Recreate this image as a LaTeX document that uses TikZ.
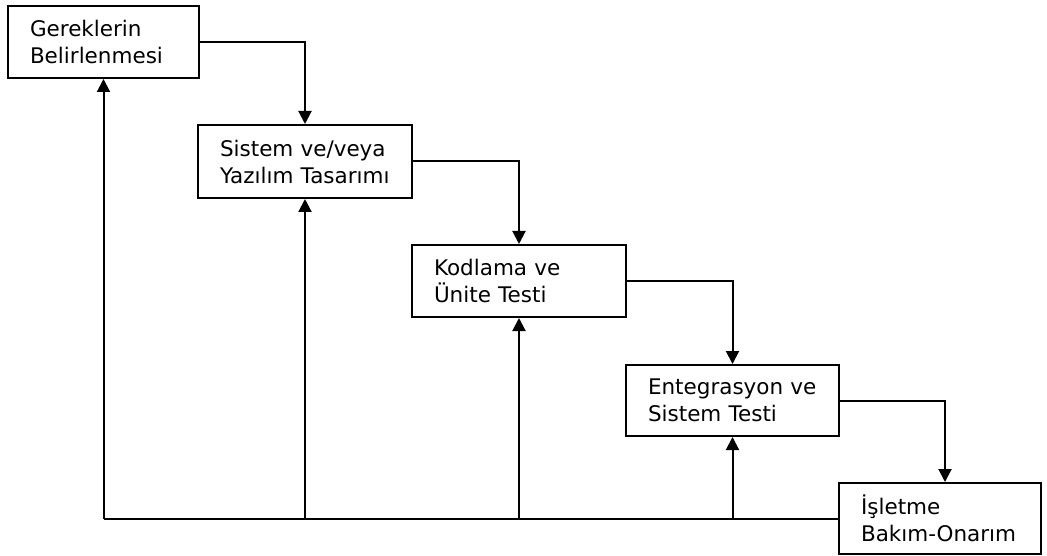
\documentclass[tikz,border=0pt]{standalone}
\usepackage{fontspec}
\setmainfont{DejaVu Sans}
\usetikzlibrary{arrows.meta}
\tikzset{
  phase/.style={draw=black, line width=2pt, fill=white, align=left, inner xsep=22pt, inner ysep=0pt,
    font=\fontsize{21.5}{27}\selectfont, anchor=center},
  flow/.style={line width=2pt, -{Triangle[width=13pt,length=13pt]}},
  ret/.style={line width=2pt}
}
\begin{document}
\begin{tikzpicture}[x=1pt,y=-1pt]
\useasboundingbox (0,0) rectangle (1047,556);
\node[phase, text width=147pt, minimum height=72pt] (b1) at (103.5,42) {Gereklerin\\Belirlenmesi};
\node[phase, text width=170pt, minimum height=73pt] (b2) at (305,161.5) {Sistem ve/veya\\Yazılım Tasarımı};
\node[phase, text width=170pt, minimum height=72pt] (b3) at (519,281) {Kodlama ve\\Ünite Testi};
\node[phase, text width=169pt, minimum height=71pt] (b4) at (732.5,400.5) {Entegrasyon ve\\Sistem Testi};
\node[phase, text width=158pt, minimum height=71pt] (b5) at (940,518.5) {İşletme\\Bakım-Onarım};
% forward flow
\draw[flow] (b1.east) -| (b2.north);
\draw[flow] (b2.east) -| (b3.north);
\draw[flow] (b3.east) -| (b4.north);
\draw[flow] (b4.east) -| ([xshift=5pt]b5.north);
% feedback
\coordinate (c1) at (b1.south |- b5.west);
\draw[ret] (b5.west) -- (c1);
\draw[flow] (c1) -- (b1.south);
\draw[flow] (b2.south |- b5.west) -- (b2.south);
\draw[flow] (b3.south |- b5.west) -- (b3.south);
\draw[flow] (b4.south |- b5.west) -- (b4.south);
\end{tikzpicture}
\end{document}
